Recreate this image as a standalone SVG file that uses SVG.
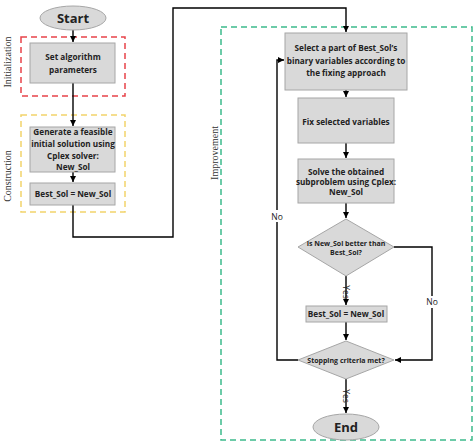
<svg xmlns="http://www.w3.org/2000/svg" width="474" height="446" viewBox="0 0 474 446">
<defs>
<marker id="ah" markerWidth="8" markerHeight="8" refX="6" refY="3" orient="auto" markerUnits="userSpaceOnUse">
<path d="M0,0 L6,3 L0,6 Z" fill="#000"/>
</marker>
<style>
.box{fill:#d9d9d9;stroke:#a6a6a6;stroke-width:1}
.t{font-family:"Open Sans","Liberation Sans",sans-serif;font-weight:bold;fill:#222;text-anchor:middle;font-size:8.2px}
.big{font-size:13px}
.sm{font-size:7px}
.lbl{font-family:"Open Sans","Liberation Sans",sans-serif;fill:#222;text-anchor:middle;font-size:8.5px}
.side{font-family:"Liberation Serif",serif;fill:#333;text-anchor:middle;font-size:10px}
.c{fill:none;stroke:#000;stroke-width:1.4}
.dash{fill:none;stroke-width:1.5;stroke-dasharray:6,4}
</style>
</defs>
<rect width="474" height="446" fill="#fff"/>
<g id="phases">
<rect class="dash" x="21" y="37" width="104" height="59" stroke="#e8434a"/>
<rect class="dash" x="21" y="115" width="104" height="97" stroke="#f2d46b"/>
<rect class="dash" x="221" y="27" width="251" height="413" stroke="#3dba8c"/>
<text class="side" transform="translate(11,62) rotate(-90)">Initialization</text>
<text class="side" transform="translate(11,176) rotate(-90)">Construction</text>
<text class="side" transform="translate(218,153) rotate(-90)">Improvement</text>
</g>
<g id="connectors">
<path class="c" d="M73,30 V42" marker-end="url(#ah)"/>
<path class="c" d="M73,83 V126" marker-end="url(#ah)"/>
<path class="c" d="M73,172 V182" marker-end="url(#ah)"/>
<path class="c" d="M73,205 V237 H173 V8 H346 V32" marker-end="url(#ah)"/>
<path class="c" d="M346,90 V97" marker-end="url(#ah)"/>
<path class="c" d="M346,143 V158" marker-end="url(#ah)"/>
<path class="c" d="M346,203 V218" marker-end="url(#ah)"/>
<path class="c" d="M346,276 V305" marker-end="url(#ah)"/>
<path class="c" d="M346,322 V340" marker-end="url(#ah)"/>
<path class="c" d="M394,247 H432 V360 H395" marker-end="url(#ah)"/>
<path class="c" d="M298,360 H277 V60 H284" marker-end="url(#ah)"/>
<path class="c" d="M346,379 V413" marker-end="url(#ah)"/>
<rect x="270" y="210" width="14" height="12" fill="#fff"/>
<text class="lbl" x="277" y="220">No</text>
<rect x="425" y="296" width="14" height="12" fill="#fff"/>
<text class="lbl" x="432" y="305">No</text>
<text class="lbl" transform="translate(343,292) rotate(90)">Yes</text>
<text class="lbl" transform="translate(343,396) rotate(90)">Yes</text>
</g>
<g id="start">
<ellipse class="box" cx="73" cy="18" rx="33" ry="12"/>
<text class="t big" x="73" y="23">Start</text>
</g>
<g id="set-params">
<rect class="box" x="30" y="43" width="85" height="40"/>
<text class="t" x="73" y="60">Set algorithm</text>
<text class="t" x="73" y="73">parameters</text>
</g>
<g id="generate">
<rect class="box" x="30" y="127" width="85" height="45"/>
<text class="t" x="73" y="135">Generate a feasible</text>
<text class="t" x="73" y="147">initial solution using</text>
<text class="t" x="73" y="159">Cplex solver:</text>
<text class="t" x="73" y="170">New_Sol</text>
</g>
<g id="best-sol-1">
<rect class="box" x="30" y="183" width="85" height="22"/>
<text class="t" x="73" y="197">Best_Sol = New_Sol</text>
</g>
<g id="select">
<rect class="box" x="285" y="33" width="122" height="57"/>
<text class="t" x="346" y="51">Select a part of Best_Sol’s</text>
<text class="t" x="346" y="64">binary variables according to</text>
<text class="t" x="346" y="76">the fixing approach</text>
</g>
<g id="fix">
<rect class="box" x="298" y="98" width="96" height="45"/>
<text class="t" x="346" y="125">Fix selected variables</text>
</g>
<g id="solve">
<rect class="box" x="298" y="159" width="96" height="44"/>
<text class="t" x="346" y="175">Solve the obtained</text>
<text class="t" x="346" y="185">subproblem using Cplex:</text>
<text class="t" x="346" y="195">New_Sol</text>
</g>
<g id="better">
<polygon class="box" points="346,219 394,247 346,276 298,247"/>
<text class="t sm" x="346" y="246">Is New_Sol better  than</text>
<text class="t sm" x="346" y="255">Best_Sol?</text>
</g>
<g id="best-sol-2">
<rect class="box" x="306" y="306" width="81" height="16"/>
<text class="t" x="346" y="317">Best_Sol = New_Sol</text>
</g>
<g id="stop">
<polygon class="box" points="346,341 394,360 346,379 298,360"/>
<text class="t sm" x="346" y="363">Stopping criteria met?</text>
</g>
<g id="end">
<ellipse class="box" cx="346" cy="427" rx="33" ry="13"/>
<text class="t big" x="346" y="432">End</text>
</g>
</svg>
